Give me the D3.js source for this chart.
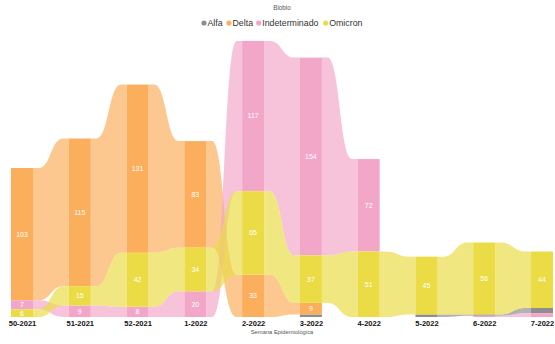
<!DOCTYPE html>
<html><head><meta charset="utf-8">
<script src="https://cdn.jsdelivr.net/npm/d3@7"></script>
<style>
html,body{margin:0;padding:0;background:#fff;}
svg{display:block;font-family:"Liberation Sans",Arial,sans-serif;}
</style></head>
<body>
<svg id="chart" width="555" height="344"></svg>
<script>
const title = "Biobio";
const axisTitle = "Semana Epidemiológica";
const categories = ["50-2021","51-2021","52-2021","1-2022","2-2022","3-2022","4-2022","5-2022","6-2022","7-2022"];
const seriesNames = ["Alfa","Delta","Indeterminado","Omicron"];
const alfa          = [0,   0,   0,   0,   0,   2,   0,  2,  1,  4];
const delta         = [103, 115, 131, 83,  33,  9,   0,  0,  0,  0];
const indeterminado = [7,   9,   8,   20,  117, 154, 72, 0,  1,  3];
const omicron       = [6,   15,  42,  34,  65,  37,  51, 45, 56, 44];
const seriesValues = [alfa, delta, indeterminado, omicron];
const colors = ["#8e8e8e","#fbae5c","#f2a7c9","#ebdc46"];

const svg = d3.select("#chart");
const x = d3.scalePoint().domain(categories).range([22, 542]);
const y = d3.scaleLinear().domain([0, 220]).range([317, 34.5]);
const barW = 22;

// stacking: largest on top
const stacks = categories.map((c, i) => {
  const items = seriesNames.map((s, k) => ({k, v: seriesValues[k][i]})).filter(d => d.v > 0);
  items.sort((a, b) => a.v - b.v || b.k - a.k);
  let acc = 0;
  const pos = {};
  items.forEach(d => { pos[d.k] = {y0: acc, y1: acc + d.v, v: d.v}; acc += d.v; });
  return pos;
});

// ribbons
const gR = svg.append("g");
seriesNames.forEach((s, k) => {
  for (let i = 0; i < categories.length - 1; i++) {
    const a = stacks[i][k], b = stacks[i + 1][k];
    if (!a || !b) continue;
    const x0 = x(categories[i]) + barW / 2, x1 = x(categories[i + 1]) - barW / 2;
    const w = x1 - x0, f = 0.16, xm = (x0 + x1) / 2;
    const t0 = y(a.y1), b0 = y(a.y0), t1 = y(b.y1), b1 = y(b.y0);
    const p = `M${x0},${t0}L${x0 + f * w},${t0}C${xm},${t0} ${xm},${t1} ${x1 - f * w},${t1}L${x1},${t1}` +
              `L${x1},${b1}L${x1 - f * w},${b1}C${xm},${b1} ${xm},${b0} ${x0 + f * w},${b0}L${x0},${b0}Z`;
    gR.append("path").attr("d", p).attr("fill", colors[k]).attr("fill-opacity", 0.68);
  }
});

// bars
const gB = svg.append("g");
categories.forEach((c, i) => {
  seriesNames.forEach((s, k) => {
    const p = stacks[i][k];
    if (!p) return;
    gB.append("rect").attr("x", x(c) - barW / 2).attr("width", barW)
      .attr("y", y(p.y1)).attr("height", y(p.y0) - y(p.y1)).attr("fill", colors[k]);
    const h = y(p.y0) - y(p.y1);
    if (h >= 7) {
      gB.append("text").attr("x", x(c)).attr("y", (y(p.y0) + y(p.y1)) / 2)
        .attr("dy", "0.35em").attr("text-anchor", "middle").attr("fill", "#fff")
        .attr("font-size", 7).text(p.v);
    }
  });
});

// x axis
const xAxis = d3.axisBottom(x).tickSize(0).tickPadding(4);
const gx = svg.append("g").attr("transform", "translate(0,317)").call(xAxis);
gx.select(".domain").remove();
gx.selectAll("text").attr("font-family", "Liberation Sans, Arial, sans-serif")
  .attr("font-size", 7.5).attr("font-weight", "bold").attr("fill", "#111");

svg.append("text").attr("x", 282).attr("y", 334).attr("text-anchor", "middle")
  .attr("font-size", 5.8).attr("fill", "#555").text(axisTitle);

svg.append("text").attr("x", 282).attr("y", 10).attr("text-anchor", "middle")
  .attr("font-size", 6.3).attr("fill", "#555").text(title);

// legend
const legX = [204, 229, 258.7, 325.7];
const gL = svg.append("g");
seriesNames.forEach((s, k) => {
  gL.append("circle").attr("cx", legX[k]).attr("cy", 23).attr("r", 2.6).attr("fill", colors[k]);
  gL.append("text").attr("x", legX[k] + 3.5).attr("y", 23).attr("dy", "0.35em")
    .attr("font-size", 8.8).attr("fill", "#333").text(s);
});
</script>
</body></html>
